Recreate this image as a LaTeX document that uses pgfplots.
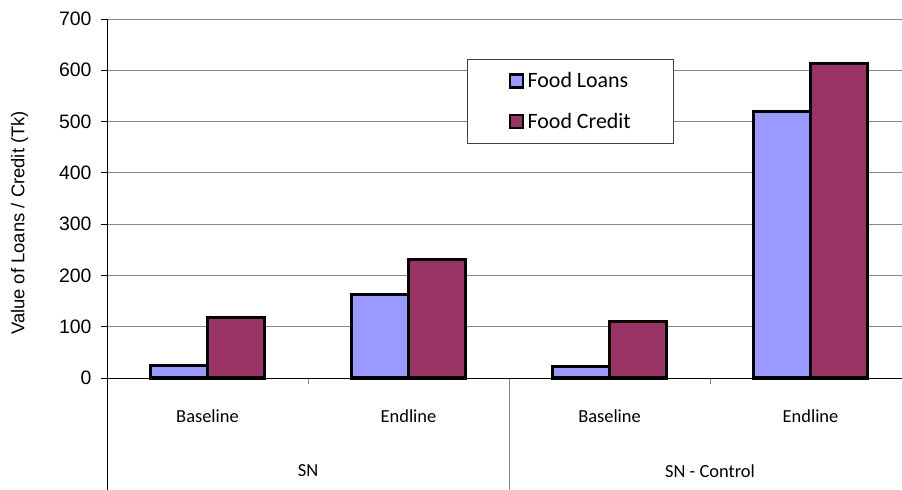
\documentclass[border=0pt]{standalone}
\usepackage{pgfplots}
\pgfplotsset{compat=1.18}
\usetikzlibrary{calc}
\usepackage{fontspec}
\setmainfont{Carlito}
\newfontfamily\arialf{Liberation Sans}
\definecolor{loans}{HTML}{9999FF}
\definecolor{credit}{HTML}{993366}
\definecolor{gridc}{HTML}{868686}
\begin{document}
\begin{tikzpicture}
\useasboundingbox (0,0) rectangle (902bp,490bp);
\begin{axis}[
  at={(107bp,112bp)}, anchor=south west,
  scale only axis, width=795bp, height=359bp,
  xmin=0, xmax=3.955, ymin=0, ymax=700,
  axis lines=left, axis line style={-, line width=0.9bp, black},
  clip=false,
  ytick={0,100,...,700},
  ymajorgrids, major grid style={gridc, line width=0.9bp},
  tick align=outside,
  major tick length=6bp,
  tick style={line width=0.9bp, black},
  xtick={1,3}, xticklabels={},
  x tick style={gridc, line width=0.9bp},
  xmajorgrids=false,
  extra x ticks={2},
  extra x tick labels={},
  extra x tick style={major tick length=112bp, xmajorgrids=false, x tick style={gridc}},
  tick label style={font=\arialf\fontsize{19.5}{19.5}\selectfont},
  /pgf/number format/assume math mode=true,
  yticklabel style={xshift=-6bp},
  ylabel={\arialf\fontsize{18.5}{18.5}\selectfont Value of Loans / Credit (Tk)},
  ylabel style={at={(axis description cs:-0.110,0.432)}, anchor=center, rotate=0},
  legend style={at={(0.453,0.889)}, anchor=north west, draw=black!75, line width=0.8bp,
     font=\fontsize{22}{22}\selectfont, inner xsep=41bp, inner ysep=11.5bp, row sep=19.5bp,
     cells={anchor=west}},
  legend image code/.code={\draw[#1, draw=black, line width=2.2bp] (0bp,-6.5bp) rectangle (13bp,6.5bp);
     \path[draw=none, fill=none] (0bp,0bp) -- (16bp,0bp);},
]
\addplot[ybar, bar width=0.284, bar shift=-0.142, fill=loans, draw=black, line width=3bp]
  coordinates {(0.5,24) (1.5,163) (2.5,23) (3.5,519)};
\addlegendentry{Food Loans}
\addplot[ybar, bar width=0.284, bar shift=0.142, fill=credit, draw=black, line width=3bp]
  coordinates {(0.5,117) (1.5,231) (2.5,111) (3.5,613)};
\addlegendentry{Food Credit}
\draw[black, line width=0.9bp] (axis cs:0,0) -- ++(0,-112bp);
\draw[black, line width=0.9bp] (axis cs:0,0) -- (axis cs:3.955,0);
\node[font=\fontsize{18.5}{18.5}\selectfont] at ($(axis cs:0.5,0)+(0,-38bp)$) {Baseline};
\node[font=\fontsize{18.5}{18.5}\selectfont] at ($(axis cs:1.5,0)+(0,-38bp)$) {Endline};
\node[font=\fontsize{18.5}{18.5}\selectfont] at ($(axis cs:2.5,0)+(0,-38bp)$) {Baseline};
\node[font=\fontsize{18.5}{18.5}\selectfont] at ($(axis cs:3.5,0)+(0,-38bp)$) {Endline};
\node[font=\fontsize{18.5}{18.5}\selectfont] at ($(axis cs:1,0)+(0,-93bp)$) {SN};
\node[font=\fontsize{18.5}{18.5}\selectfont] at ($(axis cs:3,0)+(0,-93bp)$) {SN - Control};
\end{axis}
\end{tikzpicture}
\end{document}
